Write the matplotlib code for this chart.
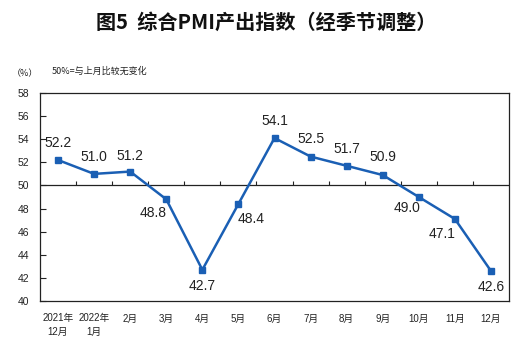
import numpy as np
import matplotlib
matplotlib.use("Agg")
import matplotlib.pyplot as plt

plt.rcParams['font.family'] = ['Liberation Sans', 'Noto Sans CJK SC', 'DejaVu Sans']

months = ["2021年\n12月", "2022年\n1月", "2月", "3月", "4月", "5月", "6月",
          "7月", "8月", "9月", "10月", "11月", "12月"]
pmi = [52.2, 51.0, 51.2, 48.8, 42.7, 48.4, 54.1, 52.5, 51.7, 50.9, 49.0, 47.1, 42.6]
# label offsets in points (dx, dy) relative to each data point
label_offsets = [(0, 12), (0, 12), (0, 11), (-9.5, -10), (0, -12), (9.5, -11),
                 (0, 12), (0, 12.5), (0, 12), (0, 13), (-8.5, -8), (-9, -11), (0, -11.5)]

fig = plt.figure(figsize=(5.26, 3.45), dpi=100)
ax = fig.add_axes([40 / 526, 1 - 301 / 345, 469 / 526, 208 / 345])

x = np.arange(len(pmi))
line_color = '#1a5fb4'
ax.plot(x, pmi, color=line_color, lw=1.8, marker='s', ms=4.5, mfc=line_color, mec=line_color, zorder=3)

for xi, v, (dx, dy) in zip(x, pmi, label_offsets):
    ax.annotate(f"{v:.1f}", (xi, v), xytext=(dx, dy), textcoords='offset points',
                ha='center', va='center', fontsize=10, color='#222222', zorder=4)

ax.set_xlim(-0.5, len(pmi) - 0.5)
ax.set_ylim(40, 58)
ax.set_yticks(np.arange(40, 59, 2))
ax.tick_params(axis='y', direction='in', length=4, width=0.8, pad=8, labelsize=7.5, colors='#222222')
ax.set_xticks(x)
ax.set_xticklabels(months, fontsize=7, linespacing=1.4)
ax.tick_params(axis='x', length=0, pad=9, colors='#222222')

# reference line at 50 with small category separators
ax.axhline(50, color='#222222', lw=0.9, zorder=2)
bounds = x[:-1] + 0.5
ax.vlines(bounds, 50, 50.35, color='#222222', lw=0.8, zorder=2)

for s in ax.spines.values():
    s.set_linewidth(0.9)
    s.set_color('#222222')

fig.text(266 / 526, 1 - 22 / 345, "图5  综合PMI产出指数（经季节调整）", ha='center', va='center',
         fontsize=14.5, fontweight='bold', family=['Noto Sans CJK SC', 'DejaVu Sans'], color='#111111')
fig.text(25 / 526, 1 - 74 / 345, "（%）", ha='center', va='center', fontsize=6.5,
         family=['Noto Sans CJK SC', 'DejaVu Sans'], color='#222222')
fig.text(52 / 526, 1 - 71 / 345, "50%=与上月比较无变化", ha='left', va='center', fontsize=6.5,
         family=['Noto Sans CJK SC', 'DejaVu Sans'], color='#222222')

fig.savefig("out.png", dpi=100)
